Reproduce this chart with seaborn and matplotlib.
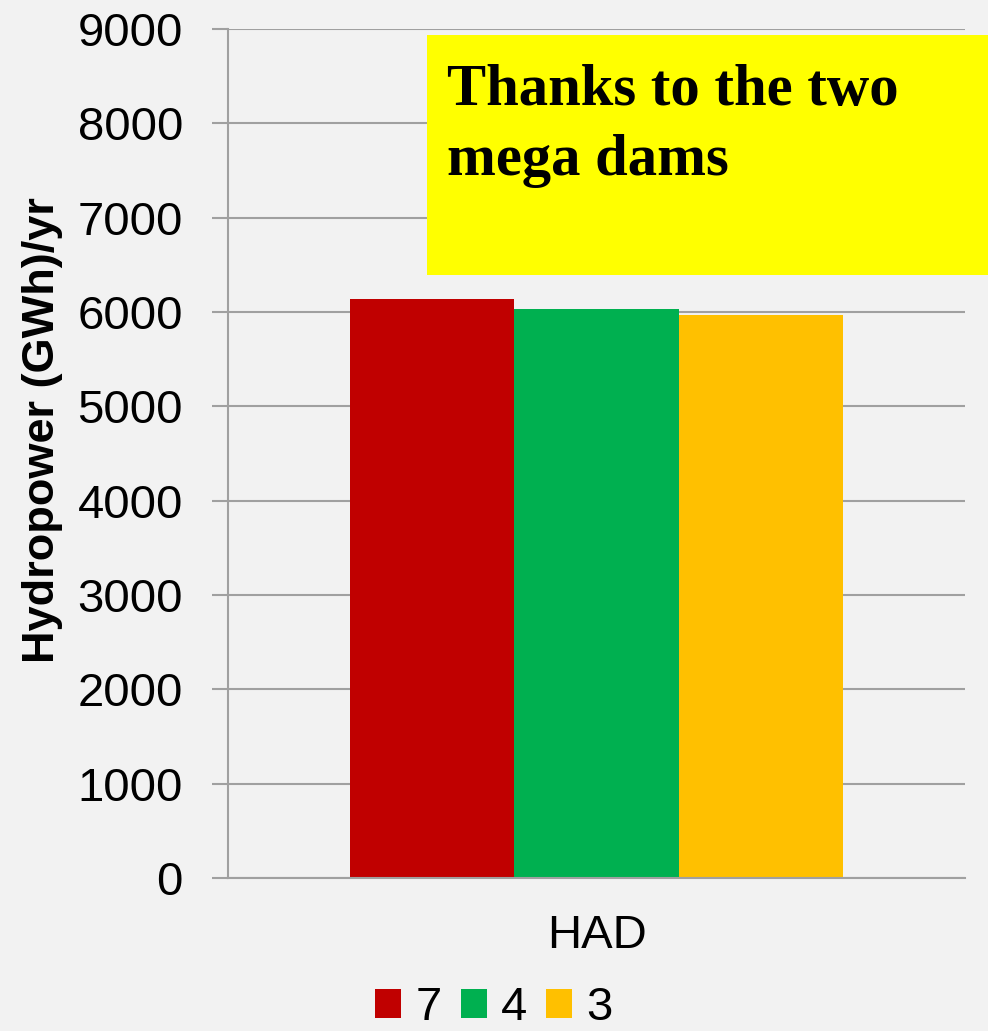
import matplotlib
matplotlib.use("Agg")
import matplotlib.pyplot as plt
from matplotlib.patches import Rectangle
import seaborn as sns
import pandas as pd

# values
sites = ["HAD", "HAD", "HAD"]
scenarios = ["7", "4", "3"]
hydropower = [6140, 6035, 5970]
bar_colors = ["#C00000", "#00B050", "#FFC000"]
y_ticks = list(range(0, 9001, 1000))
note = "Thanks to the two\nmega dams"

df = pd.DataFrame({"site": sites, "scenario": scenarios, "power": hydropower})

sns.set_style("white")
plt.rcParams["font.family"] = ["Liberation Sans", "DejaVu Sans"]
plt.rcParams["text.color"] = "black"
plt.rcParams["axes.labelcolor"] = "black"
plt.rcParams["xtick.labelcolor"] = "black"
plt.rcParams["ytick.labelcolor"] = "black"

bg = "#F2F2F2"
grid_col = "#A0A0A0"

fig = plt.figure(figsize=(9.88, 10.31), dpi=100, facecolor=bg)
ax = fig.add_axes([0.2308, 0.1484, 0.7459, 0.8235])
ax.set_facecolor(bg)

sns.barplot(data=df, x="site", y="power", hue="scenario", hue_order=scenarios,
            palette=bar_colors, width=0.67, gap=0, linewidth=0, saturation=1,
            errorbar=None, ax=ax)

# axes styling
ax.set_ylim(0, 9000)
ax.set_yticks(y_ticks)
ax.set_xlim(-0.5, 0.5)
ax.yaxis.grid(True, color=grid_col, lw=1.5)
ax.set_axisbelow(True)
for s in ["top", "right"]:
    ax.spines[s].set_visible(False)
for s in ["left", "bottom"]:
    ax.spines[s].set_color(grid_col)
    ax.spines[s].set_linewidth(1.5)

ax.set_xticks([0])
ax.set_xticklabels(["HAD"])
ax.set_xticks([-0.5, 0.5], minor=True)
ax.tick_params(axis="x", which="major", length=0, pad=26, labelsize=34)
ax.tick_params(axis="x", which="minor", length=11, width=1.5, color=grid_col)
ax.tick_params(axis="y", length=11.5, width=1.5, color=grid_col, pad=21, labelsize=34, left=True)
ax.set_xlabel("")
ax.set_ylabel("Hydropower (GWh)/yr", fontsize=32.5, fontweight="bold", va="center")
ax.yaxis.set_label_coords(-0.2524, 0.528)

# legend at the bottom
handles, labels = ax.get_legend_handles_labels()
ax.get_legend().remove()
fig.legend(handles, labels, loc="center", bbox_to_anchor=(0.5, 0.022), ncol=3,
           frameon=False, fontsize=34, handlelength=0.55, handleheight=0.55,
           handletextpad=0.3, columnspacing=0.4)

# yellow note box
fig.add_artist(Rectangle((0.4322, 0.7333), 0.5678, 0.2328, transform=fig.transFigure,
                         facecolor="#FFFF00", edgecolor="none", zorder=5))
fig.text(0.4524, 0.8303, note, family=["Liberation Serif", "DejaVu Serif"],
         fontweight="bold", fontsize=42.2, va="baseline", ha="left",
         linespacing=1.39, zorder=6)

fig.savefig("out.png", dpi=100, facecolor=bg)
